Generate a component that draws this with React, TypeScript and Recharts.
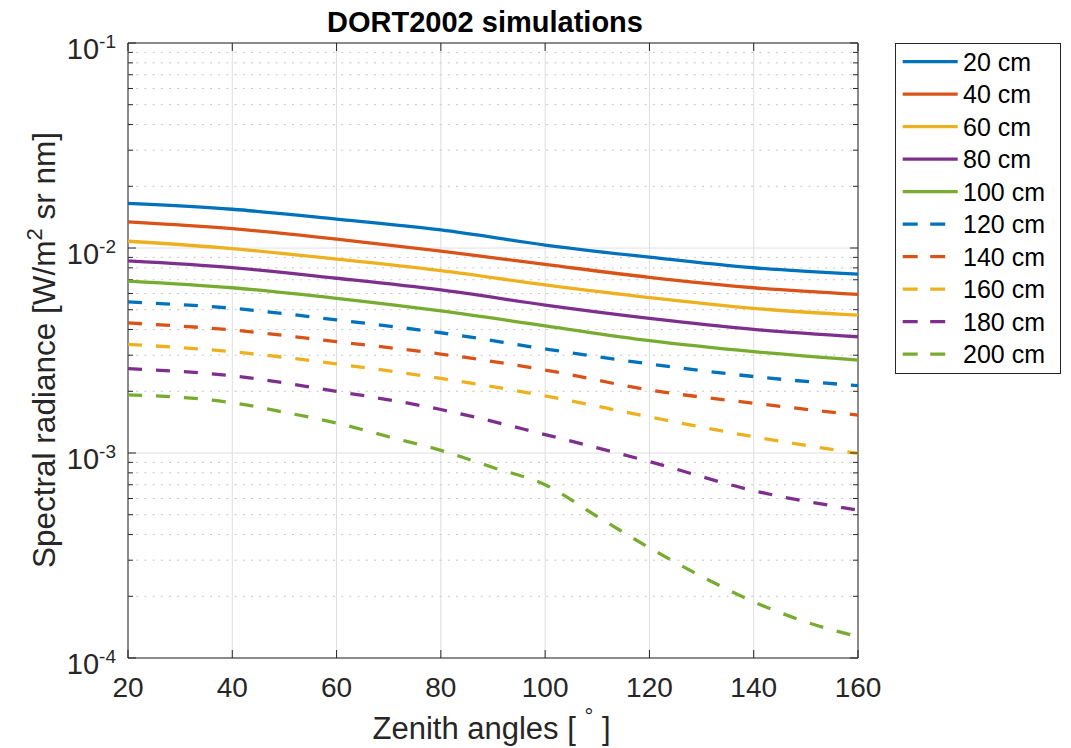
import React from 'react';
import {
  LineChart, Line, XAxis, YAxis, CartesianGrid, ReferenceLine, ReferenceArea, Legend, Label,
} from 'recharts';

const FONT = '"Liberation Sans", Arial, Helvetica, sans-serif';
const AX = '#262626';

// ---- data ----
const angles = [20, 40, 60, 80, 100, 120, 140, 160];
const angles200 = [20, 30, 40, 50, 60, 70, 80, 90, 100, 110, 120, 130, 140, 150, 160];

const r20 = [0.0165, 0.01545, 0.01384, 0.01225, 0.01034, 0.00902, 0.00801, 0.00745];
const r40 = [0.0134, 0.01242, 0.01106, 0.00966, 0.00832, 0.00719, 0.0064, 0.00594];
const r60 = [0.01079, 0.00993, 0.00883, 0.00775, 0.00661, 0.00573, 0.00508, 0.0047];
const r80 = [0.00865, 0.00802, 0.00712, 0.00624, 0.00527, 0.00454, 0.00401, 0.00369];
const r100 = [0.0069, 0.0064, 0.00568, 0.00493, 0.00417, 0.00353, 0.00312, 0.00284];
const r120 = [0.00546, 0.00508, 0.00446, 0.00386, 0.00322, 0.00272, 0.00236, 0.00213];
const r140 = [0.00431, 0.00398, 0.00349, 0.00304, 0.00254, 0.00203, 0.00175, 0.00153];
const r160 = [0.00339, 0.00312, 0.00272, 0.00231, 0.0019, 0.0015, 0.0012, 0.000995];
const r180 = [0.00258, 0.00238, 0.002, 0.00163, 0.00123, 0.000908, 0.000655, 0.000527];
const r200 = [0.00192, 0.00187, 0.00176, 0.00158, 0.0014, 0.0012, 0.00103, 0.00085, 0.0007, 0.00049, 0.000345, 0.00025, 0.000188, 0.00015, 0.000127];

const seriesNames = ['20 cm', '40 cm', '60 cm', '80 cm', '100 cm', '120 cm', '140 cm', '160 cm', '180 cm', '200 cm'];
const seriesColors = ['#0072BD', '#D95319', '#EDB120', '#7E2F8E', '#77AC30', '#0072BD', '#D95319', '#EDB120', '#7E2F8E', '#77AC30'];
const seriesDashed = [false, false, false, false, false, true, true, true, true, true];
const seriesValues = [r20, r40, r60, r80, r100, r120, r140, r160, r180, r200];
const seriesAngles = [angles, angles, angles, angles, angles, angles, angles, angles, angles, angles200];

const xTicks = [20, 40, 60, 80, 100, 120, 140, 160];
const yTicks = [1e-4, 1e-3, 1e-2, 1e-1];
const yMinor: number[] = [];
[1e-4, 1e-3, 1e-2].forEach((d) => {
  for (let m = 2; m <= 9; m++) yMinor.push(+(m * d).toPrecision(3));
});

const series = seriesNames.map((name, i) => ({
  name,
  color: seriesColors[i],
  dashed: seriesDashed[i],
  data: seriesAngles[i].map((a, j) => ({ angle: a, value: seriesValues[i][j] })),
}));

const LW = 3.3;
const DASH = '14 14';

// ---- custom pieces ----
const XTick = (props: any) => {
  const { x, y, payload } = props;
  return (
    <text x={x} y={y + 39} textAnchor="middle" fontFamily={FONT} fontSize={28} fill={AX}>
      {payload.value}
    </text>
  );
};

const YTick = (props: any) => {
  const { x, y, payload } = props;
  const e = Math.round(Math.log10(payload.value));
  return (
    <text x={x - 12} y={y + 16} textAnchor="end" fontFamily={FONT} fontSize={29} fill={AX}>
      10
      <tspan fontSize={19} dy={-11}>{e}</tspan>
    </text>
  );
};

const minorYShape = (props: any) => {
  const l = Math.min(props.x1, props.x2);
  const r = Math.max(props.x1, props.x2);
  const y = props.y1;
  return (
    <g>
      <line x1={l} y1={y} x2={r} y2={y} stroke="#c4c4c4" strokeWidth={1} strokeDasharray="2 6.2" />
      <line x1={l} y1={y} x2={l + 5} y2={y} stroke={AX} strokeWidth={1} />
      <line x1={r - 5} y1={y} x2={r} y2={y} stroke={AX} strokeWidth={1} />
    </g>
  );
};

const majorYShape = (props: any) => {
  const l = Math.min(props.x1, props.x2);
  const r = Math.max(props.x1, props.x2);
  const y = props.y1;
  return (
    <g>
      <line x1={l} y1={y} x2={l + 8} y2={y} stroke={AX} strokeWidth={1} />
      <line x1={r - 8} y1={y} x2={r} y2={y} stroke={AX} strokeWidth={1} />
    </g>
  );
};

const majorXShape = (props: any) => {
  const t = Math.min(props.y1, props.y2);
  const b = Math.max(props.y1, props.y2);
  const x = props.x1;
  return (
    <g>
      <line x1={x} y1={t} x2={x} y2={t + 8} stroke={AX} strokeWidth={1} />
      <line x1={x} y1={b - 8} x2={x} y2={b} stroke={AX} strokeWidth={1} />
    </g>
  );
};

const TitleContent = () => (
  <text x={477} y={32} textAnchor="middle" fontFamily={FONT} fontSize={29} fontWeight="bold" fill="#000">
    DORT2002 simulations
  </text>
);

const XLabelContent = (props: any) => {
  const vb = props.viewBox || { x: 120, y: 658 };
  return (
    <text x={483.5} y={vb.y + 81} textAnchor="middle" fontFamily={FONT} fontSize={31} fill={AX}>
      Zenith angles [ <tspan fontSize={22} dy={-15}>°</tspan><tspan dy={15}> ]</tspan>
    </text>
  );
};

const YLabelContent = () => (
  <text
    x={47}
    y={350}
    transform="rotate(-90 47 350)"
    textAnchor="middle"
    fontFamily={FONT}
    fontSize={31.5}
    fill={AX}
  >
    Spectral radiance [W/m<tspan fontSize={22} dy={-13}>2</tspan><tspan dy={13}> sr nm]</tspan>
  </text>
);

const LegendBox = () => {
  const rowH = 32.5;
  return (
    <div
      style={{
        width: 164,
        height: 329,
        border: `1px solid ${AX}`,
        background: '#fff',
      }}
    >
      <svg width={164} height={329} style={{ display: 'block' }}>
        {series.map((s, i) => {
          const cy = 17.7 + i * rowH;
          return (
            <g key={s.name}>
              <line
                x1={6.7}
                y1={cy}
                x2={61.7}
                y2={cy}
                stroke={s.color}
                strokeWidth={LW}
                strokeDasharray={s.dashed ? '15 12.5' : undefined}
              />
              <text x={67} y={cy + 9} fontFamily={FONT} fontSize={25} fill="#000">
                {s.name}
              </text>
            </g>
          );
        })}
      </svg>
    </div>
  );
};

export default function App() {
  return (
    <LineChart
      width={1055}
      height={748}
      style={{ marginTop: -8 }}
      margin={{ top: 43, right: 205, bottom: 0, left: 0 }}
    >
      <CartesianGrid stroke="#dedede" strokeWidth={1} />
      {yMinor.map((v) => (
        <ReferenceLine key={'m' + v} y={v} shape={minorYShape} />
      ))}
      <XAxis
        dataKey="angle"
        type="number"
        domain={[20, 160]}
        ticks={xTicks}
        height={90}
        tickSize={0}
        tickMargin={0}
        tickLine={false}
        axisLine={false}
        tick={<XTick />}
        interval={0}
        allowDuplicatedCategory={false}
      >
        <Label content={<XLabelContent />} />
      </XAxis>
      <YAxis
        scale="log"
        domain={[1e-4, 1e-1]}
        ticks={yTicks}
        width={120}
        tickSize={0}
        tickMargin={0}
        tickLine={false}
        axisLine={false}
        tick={<YTick />}
        interval={0}
        allowDataOverflow
      >
        <Label content={<YLabelContent />} />
        <Label content={<TitleContent />} />
      </YAxis>
      {series.map((s) => (
        <Line
          key={s.name}
          data={s.data}
          dataKey="value"
          name={s.name}
          type="monotone"
          stroke={s.color}
          strokeWidth={LW}
          strokeDasharray={s.dashed ? DASH : undefined}
          dot={false}
          activeDot={false}
          isAnimationActive={false}
        />
      ))}
      {yTicks.map((v) => (
        <ReferenceLine key={'y' + v} y={v} shape={majorYShape} />
      ))}
      {xTicks.map((v) => (
        <ReferenceLine key={'x' + v} x={v} shape={majorXShape} />
      ))}
      <ReferenceArea x1={20} x2={160} y1={1e-4} y2={1e-1} fill="none" fillOpacity={0} stroke={AX} strokeWidth={1} />
      <Legend
        layout="horizontal"
        verticalAlign="middle"
        align="center"
        width={166}
        wrapperStyle={{ top: 43, left: 887, width: 166, height: 331 }}
        content={<LegendBox />}
      />
    </LineChart>
  );
}
